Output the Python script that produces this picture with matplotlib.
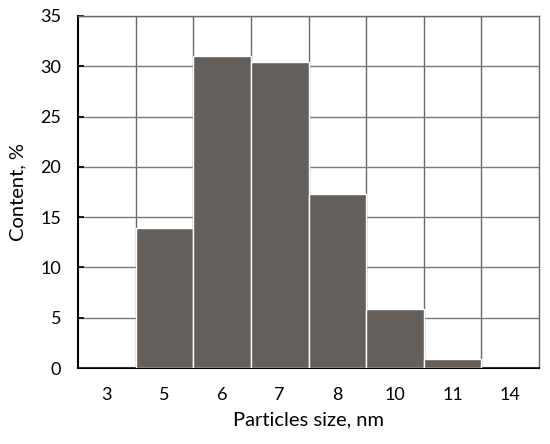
import matplotlib
matplotlib.use("Agg")
import matplotlib.pyplot as plt

categories = ["3", "5", "6", "7", "8", "10", "11", "14"]
values = [0, 13.9, 31.0, 30.45, 17.3, 5.9, 0.9, 0]

plt.rcParams['font.family'] = ['Lato', 'DejaVu Sans']

fig = plt.figure(figsize=(5.5, 4.44), dpi=100)
ax = fig.add_axes([78/550, (444-368)/444, (539-78)/550, (368-16)/444])

x = list(range(len(categories)))
ax.bar(x, values, width=1.0, color="#655F5C", edgecolor="white", linewidth=1.0, zorder=3)

ax.set_xlim(-0.5, len(categories) - 0.5)
ax.set_ylim(0, 35)
ax.set_yticks(range(0, 36, 5))
ax.set_xticks(x)
ax.set_xticklabels(categories)

# vertical grid at category boundaries
for b in range(1, len(categories)):
    ax.axvline(b - 0.5, color="#6a6a6a", linewidth=1.0, zorder=1)
for yv in range(5, 36, 5):
    ax.axhline(yv, color="#7a7a7a", linewidth=1.0, zorder=1)

for s in ["left", "bottom"]:
    ax.spines[s].set_color("black")
    ax.spines[s].set_linewidth(1.5)
for s in ["top", "right"]:
    ax.spines[s].set_color("#6a6a6a")
    ax.spines[s].set_linewidth(1.0)

ax.tick_params(axis="y", direction="in", length=4, width=1.2, labelsize=13, pad=12)
ax.tick_params(axis="x", length=0, labelsize=13, pad=14)

ax.set_xlabel("Particles size, nm", fontsize=14.5, labelpad=6)
ax.set_ylabel("Content, %", fontsize=14.5, labelpad=10)

fig.savefig("out.png", dpi=100)
